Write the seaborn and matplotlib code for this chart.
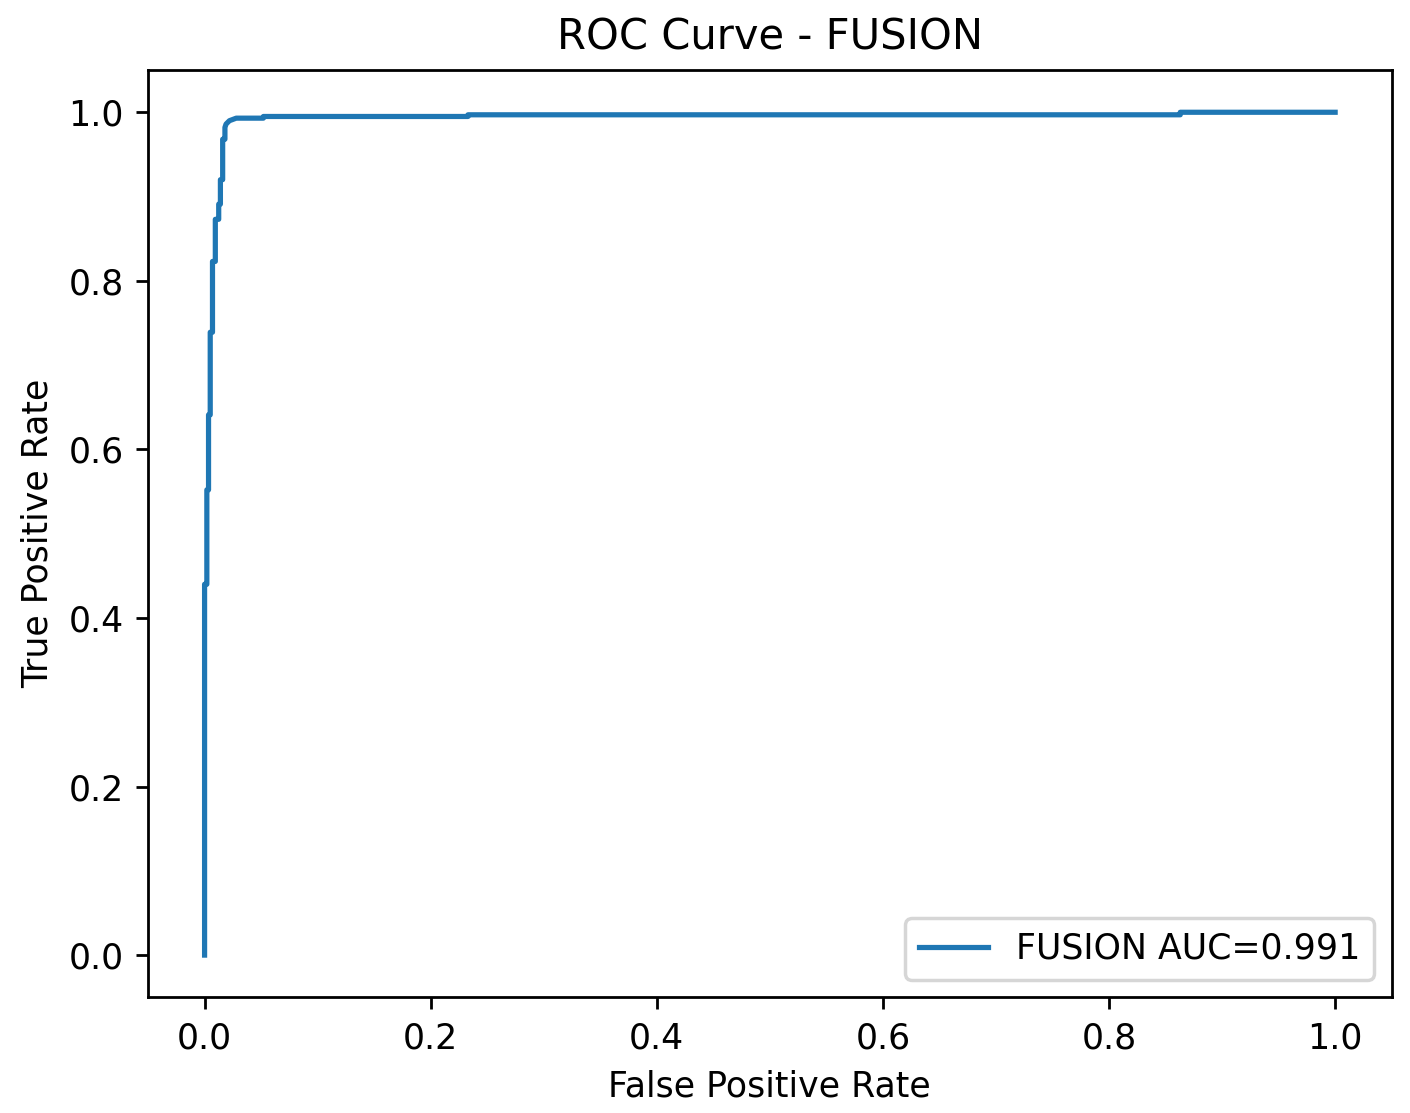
import matplotlib
matplotlib.use("Agg")
import matplotlib.pyplot as plt
import seaborn as sns
import pandas as pd

# ROC points
fpr = [0, 0, 0.002, 0.002, 0.0035, 0.0035, 0.005, 0.005, 0.007, 0.007,
       0.0095, 0.0095, 0.0125, 0.0125, 0.014, 0.014, 0.016, 0.016, 0.018,
       0.018, 0.019, 0.022, 0.028, 0.052, 0.052, 0.233, 0.233, 0.863, 0.863, 1.0]
tpr = [0, 0.44, 0.44, 0.552, 0.552, 0.641, 0.641, 0.739, 0.739, 0.823,
       0.823, 0.873, 0.873, 0.891, 0.891, 0.920, 0.920, 0.968, 0.968,
       0.982, 0.986, 0.990, 0.993, 0.993, 0.995, 0.995, 0.997, 0.997, 1.0, 1.0]
model = "FUSION"
auc = 0.991

df = pd.DataFrame({"fpr": fpr, "tpr": tpr})

DPI = 250
fig = plt.figure(figsize=(1410 / DPI, 1113 / DPI), dpi=DPI)
ax = fig.add_axes([0.105, 0.104, 0.882, 0.833])
sns.lineplot(data=df, x="fpr", y="tpr", sort=False, estimator=None,
             color="#1f77b4", linewidth=1.5, label=f"{model} AUC={auc}", ax=ax)
ax.set_xlabel("False Positive Rate")
ax.set_ylabel("True Positive Rate")
ax.set_title(f"ROC Curve - {model}")
ax.legend(loc="lower right")
fig.savefig("out.png", dpi=DPI)
